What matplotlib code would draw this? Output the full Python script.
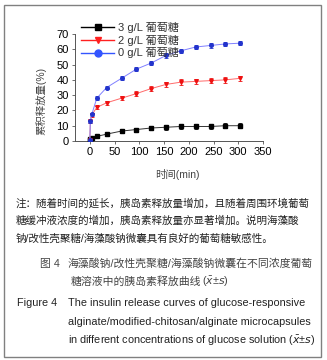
import matplotlib
matplotlib.use("Agg")
import matplotlib.pyplot as plt
from matplotlib.patches import Rectangle
from matplotlib.lines import Line2D

plt.rcParams['font.family'] = ['Liberation Sans', 'Noto Sans CJK SC', 'DejaVu Sans']

time_min = [0, 1, 4, 14, 34, 64, 94, 124, 154, 184, 214, 244, 274, 304]
glu3 = [0.5, 1, 2, 3, 4.5, 6.5, 7.5, 8.5, 9, 9.5, 9.5, 9.5, 10, 10]
glu3_err = [0.5, 0.5, 0.6, 0.8, 1, 1.2, 1.3, 1.4, 1.5, 1.5, 1.5, 1.5, 1.5, 1.5]
glu2 = [0.5, 13, 17, 22, 25, 28, 31, 34.3, 37, 38.5, 39, 39.5, 40, 41]
glu2_err = [0.5, 1, 1, 1.2, 1.3, 1.4, 1.5, 1.6, 1.6, 1.8, 1.8, 1.8, 1.8, 1.8]
glu0 = [0.5, 13, 17.5, 28, 35, 41, 47, 51, 56, 59, 61.5, 62.5, 63.5, 64]
glu0_err = [0.5, 1, 1, 1.2, 1.3, 1.3, 1.4, 1.4, 1.4, 1.5, 1.5, 1.5, 1.5, 1.5]
labels = ['3 g/L 葡萄糖', '2 g/L 葡萄糖', '0 g/L 葡萄糖']
xticks = [0, 50, 100, 150, 200, 250, 300, 350]
yticks = [0, 10, 20, 30, 40, 50, 60, 70]

W, H = 327, 360
fig = plt.figure(figsize=(W / 100, H / 100), dpi=100)

def fx(px):
    return px / W

def fy(py):
    return 1 - py / H

ax = fig.add_axes([fx(75), fy(141), fx(263) - fx(75), fy(34) - fy(141)])
ax.set_xlim(-30, 350)
ax.set_ylim(0, 70)

series = [
    (glu3, glu3_err, '#333333', '#000000', 's'),
    (glu2, glu2_err, '#ff6a6a', '#ee1111', 'v'),
    (glu0, glu0_err, '#8080ff', '#2233cc', 'o'),
]
for vals, errs, lc, mc, mk in series:
    ax.errorbar(time_min, vals, yerr=errs, color=lc, lw=0.7, marker=mk,
                ms=2.6, mfc=mc, mec=mc, ecolor=mc, elinewidth=0.6, capsize=1.5,
                capthick=0.6, zorder=3)

ax.spines['top'].set_visible(False)
ax.spines['right'].set_visible(False)
for s in ['left', 'bottom']:
    ax.spines[s].set_linewidth(0.7)
    ax.spines[s].set_color('#555555')
ax.set_xticks(xticks)
ax.set_yticks(yticks)
ax.tick_params(labelsize=8, length=2.5, width=0.6, color='#555555', pad=2)

fig.text(fx(41), fy(101), '累积释放量(%)', rotation=90, ha='center', va='center',
         fontsize=7.5, color='#444444')
fig.text(fx(177), fy(174), '时间(min)', ha='center', va='center',
         fontsize=7.5, color='#444444')

handles = [
    Line2D([0], [0], color='#000000', lw=1, marker='s', ms=5),
    Line2D([0], [0], color='#ff2020', lw=1, marker='v', ms=5),
    Line2D([0], [0], color='#3355ff', lw=1, marker='o', ms=5),
]
fig.legend(handles, labels, loc='upper left', bbox_to_anchor=(fx(81), fy(22)),
           frameon=False, fontsize=8, handlelength=3.0, handletextpad=0.3,
           labelspacing=0.15, borderpad=0, borderaxespad=0, labelcolor='#333333')

fig.add_artist(Rectangle((fx(3.5), fy(357)), fx(321) - fx(3.5), fy(5) - fy(357),
                         transform=fig.transFigure, fill=False,
                         edgecolor='#808080', lw=1.0))

note = ['注：随着时间的延长，胰岛素释放量增加，且随着周围环境葡萄',
        '糖缓冲液浓度的增加，胰岛素释放量亦显著增加。说明海藻酸',
        '钠/改性壳聚糖/海藻酸钠微囊具有良好的葡萄糖敏感性。']
for i, line in enumerate(note):
    fig.text(fx(16), fy(203 + 18 * i), line, ha='left', va='center',
             fontsize=7.6, color='#222222')

fig.text(fx(40), fy(264), '图 4', ha='left', va='center', fontsize=7.8, color='#444444')
fig.text(fx(67), fy(264), '海藻酸钠/改性壳聚糖/海藻酸钠微囊在不同浓度葡萄',
         ha='left', va='center', fontsize=7.8, color='#444444')
t2 = fig.text(fx(71), fy(282), '糖溶液中的胰岛素释放曲线',
              ha='left', va='center', fontsize=7.8, color='#444444')
ax.annotate('($\\bar{x}$±$s$)', xy=(1, 0.5), xycoords=t2, xytext=(0.5, 0),
            textcoords='offset points', ha='left', va='center',
            fontsize=7.8, color='#444444', annotation_clip=False)

fig.text(fx(17), fy(303), 'Figure 4', ha='left', va='center', fontsize=7.8, color='#222222')
eng = ['The insulin release curves of glucose-responsive',
       'alginate/modified-chitosan/alginate microcapsules',
       'in different concentrations of glucose solution ($\\bar{x}$±$s$)']
for i, line in enumerate(eng):
    fig.text(fx(68), fy(303 + 19 * i), line, ha='left', va='center',
             fontsize=7.8, color='#222222')

fig.savefig('out.png', dpi=100)
